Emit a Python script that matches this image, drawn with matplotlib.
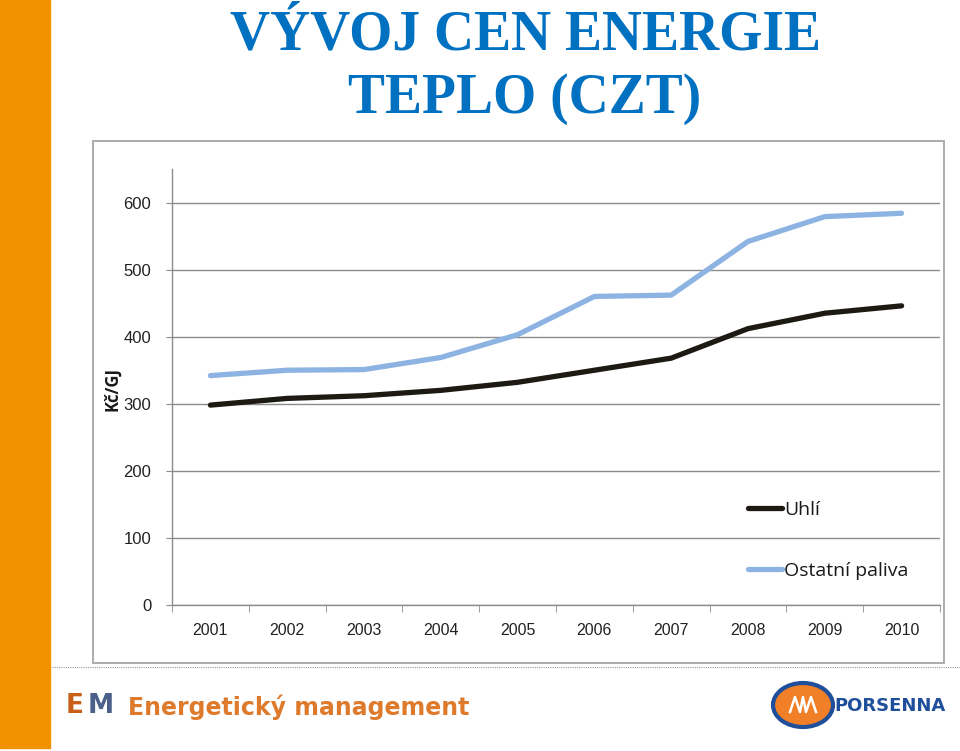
#!/usr/bin/env python
# -*- coding: utf-8 -*-

import numpy as np
import matplotlib
matplotlib.use("Agg")
import matplotlib.pyplot as plt
from matplotlib.patches import Rectangle, Ellipse
from matplotlib.lines import Line2D

# data
years = ["2001", "2002", "2003", "2004", "2005",
         "2006", "2007", "2008", "2009", "2010"]
uhli = [298, 308, 312, 320, 332, 350, 368, 412, 435, 446]
ostatni = [342, 350, 351, 369, 403, 460, 462, 542, 579, 584]
series_names = ["Uhlí", "Ostatní paliva"]
y_ticks = [0, 100, 200, 300, 400, 500, 600]

W, H = 960, 751


def fx(px):
    return px / W


def fy(py):
    return 1 - py / H


def draw_slide(fig):
    # orange stripe on the left
    fig.patches.append(Rectangle((0, fy(748)), fx(50), fy(0) - fy(748),
                                 transform=fig.transFigure, color="#F39200",
                                 zorder=0))
    # title
    fig.text(0.547, fy(35), "VÝVOJ CEN ENERGIE", ha="center", va="center",
             fontsize=40, fontweight="bold", color="#0070C0",
             family="Liberation Serif")
    fig.text(0.547, fy(99), "TEPLO (CZT)", ha="center", va="center",
             fontsize=40, fontweight="bold", color="#0070C0",
             family="Liberation Serif")
    # frame round the chart picture
    fig.patches.append(Rectangle((fx(93), fy(663)), fx(944 - 93),
                                 fy(141) - fy(663), transform=fig.transFigure,
                                 facecolor="white", edgecolor="#A6A6A6",
                                 lw=1.3, zorder=0))
    # dotted divider
    fig.lines.append(Line2D([fx(52), fx(960)], [fy(667), fy(667)],
                            transform=fig.transFigure, color="#9A9A9A",
                            lw=0.8, ls=(0, (1, 1))))
    # footer: EM logo
    fig.text(fx(66), fy(706), "E", ha="left", va="center", fontsize=19,
             fontweight="heavy", color="#C8601A", family="DejaVu Sans")
    fig.text(fx(88), fy(706), "M", ha="left", va="center", fontsize=19,
             fontweight="heavy", color="#4A5F8A", family="DejaVu Sans")
    fig.text(fx(128), fy(707), "Energetický management", ha="left",
             va="center", fontsize=17, fontweight="heavy", color="#DE7A2C",
             family="DejaVu Sans")
    # footer: PORSENNA logo
    fig.patches.append(Ellipse((fx(803), fy(705)), fx(60), 44 / H,
                               transform=fig.transFigure, facecolor="#F07F28",
                               edgecolor="#1F4E9A", lw=3, zorder=3))
    zx = [790, 795, 800, 803, 806, 811, 816]
    zy = [712, 697, 712, 697, 712, 697, 712]
    fig.lines.append(Line2D([fx(v) for v in zx], [fy(v) for v in zy],
                            transform=fig.transFigure, color="white", lw=1.8,
                            zorder=4))
    fig.text(fx(834), fy(706), "PORSENNA", ha="left", va="center",
             fontsize=13, fontweight="bold", color="#1F4E9A",
             family="DejaVu Sans")


def plot_chart(fig):
    ax = fig.add_axes([fx(172), fy(605), fx(940 - 172), fy(169) - fy(605)])
    ax.set_zorder(2)
    ax.set_facecolor("none")
    x = np.arange(len(years))

    ax.plot(x, uhli, color="#1C1A12", lw=3.8, solid_capstyle="round",
            label=series_names[0], zorder=3)
    ax.plot(x, ostatni, color="#8DB3E2", lw=3.8, solid_capstyle="round",
            label=series_names[1], zorder=3)

    ax.set_xlim(-0.5, len(years) - 0.5)
    ax.set_ylim(0, 650)
    ax.set_yticks(y_ticks)
    ax.set_xticks(x)
    ax.set_xticklabels(years)
    ax.set_xticks(np.arange(len(years) + 1) - 0.5, minor=True)
    ax.tick_params(axis="x", which="major", length=0, pad=13,
                   labelsize=11.5, labelcolor="#222222")
    ax.tick_params(axis="x", which="minor", length=5, color="#8C8C8C")
    ax.tick_params(axis="y", length=4, color="#8C8C8C", pad=11,
                   labelsize=12, labelcolor="#222222")
    for lab in ax.get_xticklabels() + ax.get_yticklabels():
        lab.set_family("Liberation Sans")

    ax.grid(axis="y", color="#8C8C8C", lw=1)
    ax.set_axisbelow(True)
    for s in ["top", "right"]:
        ax.spines[s].set_visible(False)
    for s in ["left", "bottom"]:
        ax.spines[s].set_color("#8C8C8C")
        ax.spines[s].set_linewidth(1)

    fig.text(fx(112), fy(389), "Kč/GJ", rotation=90, ha="center", va="center",
             fontsize=12, fontweight="bold", family="Open Sans",
             color="#1A1A1A", zorder=3)

    leg = ax.legend(loc="upper left", bbox_to_anchor=(fx(748), fy(501)),
                    bbox_transform=fig.transFigure, frameon=False,
                    borderpad=0, borderaxespad=0, handlelength=1.75,
                    handletextpad=0.12, labelspacing=2.22,
                    prop={"family": "Open Sans", "size": 14})
    for t in leg.get_texts():
        t.set_color("#1A1A1A")
    return ax


def main():
    fig = plt.figure(figsize=(W / 100, H / 100), dpi=100)
    draw_slide(fig)
    plot_chart(fig)
    fig.savefig("out.png", dpi=100, facecolor="white")


if __name__ == "__main__":
    main()
